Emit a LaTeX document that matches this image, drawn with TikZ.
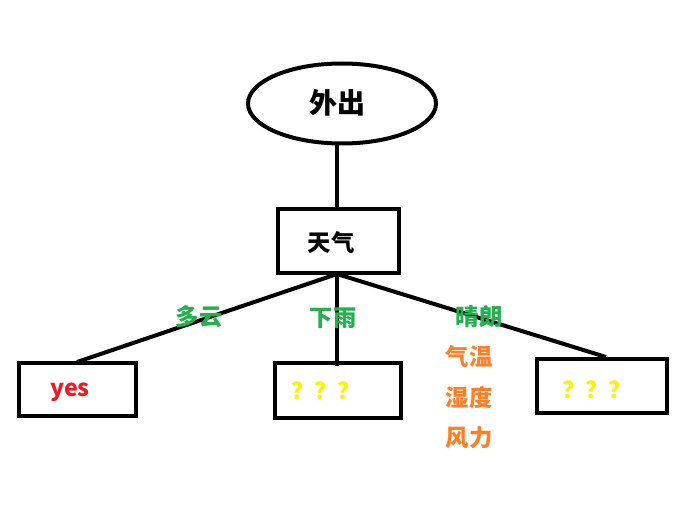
\documentclass[tikz,border=0pt]{standalone}
\usepackage{fontspec}
\setmainfont{Noto Sans CJK SC}
\usetikzlibrary{shapes.geometric}
\definecolor{pgreen}{RGB}{34,177,76}
\definecolor{porange}{RGB}{255,127,39}
\definecolor{pred}{RGB}{237,28,36}
\definecolor{pyellow}{RGB}{255,242,0}
\tikzset{
  box/.style={draw=black, line width=3pt, rectangle, inner sep=0pt},
  lbl/.style={font=\fontsize{17.5}{20}\selectfont\bfseries, inner sep=0pt},
  edge/.style={line width=3pt, black}
}
\begin{document}
\begin{tikzpicture}[x=0.75pt,y=-0.75pt]
\useasboundingbox (0,0) rectangle (688,506);
\node[draw, ellipse, line width=3pt, minimum width=188*0.75pt, minimum height=80*0.75pt, inner sep=0pt] (root) at (342,103.5) {};
\node[lbl, text=black, font=\fontsize{21}{24}\selectfont\bfseries] (rootlbl) at (337,103) {外出};
\node[box, minimum width=121*0.75pt, minimum height=64*0.75pt] (weather) at (338.5,240.5) {};
\node[lbl, text=black] (weatherlbl) at (331,243) {天气};
\node[box, minimum width=117*0.75pt, minimum height=53*0.75pt] (yes) at (77.5,389.5) {};
\node[lbl, text=pred] (yeslbl) at (70,392) {yes};
\node[box, minimum width=126*0.75pt, minimum height=55*0.75pt] (rain) at (338,390.5) {};
\node[lbl, text=pyellow] (rainlbl) at (326,391) {？？？};
\node[box, minimum width=130*0.75pt, minimum height=54*0.75pt] (sun) at (602,386) {};
\node[lbl, text=pyellow] (sunlbl) at (597,390) {？？？};
\coordinate (hub) at (337,274);
\coordinate (yesend) at (77,362);
\coordinate (rainend) at (337,366);
\coordinate (sunend) at (606,357);
\draw[edge] (root.south) ++(-5,0) coordinate (rs) -- (rs |- weather.north);
\draw[edge] (hub) -- (yesend);
\draw[edge] (hub) -- (rainend);
\draw[edge] (hub) -- (sunend);
\node[lbl, text=pgreen] (cloudy) at (199,317) {多云};
\node[lbl, text=pgreen] (rainy) at (333,318) {下雨};
\node[lbl, text=pgreen] (sunny) at (479,317) {晴朗};
\node[lbl, text=porange] (temp) at (469,357) {气温};
\node[lbl, text=porange] (hum) at (469,398) {湿度};
\node[lbl, text=porange] (wind) at (469,438) {风力};
\end{tikzpicture}
\end{document}
